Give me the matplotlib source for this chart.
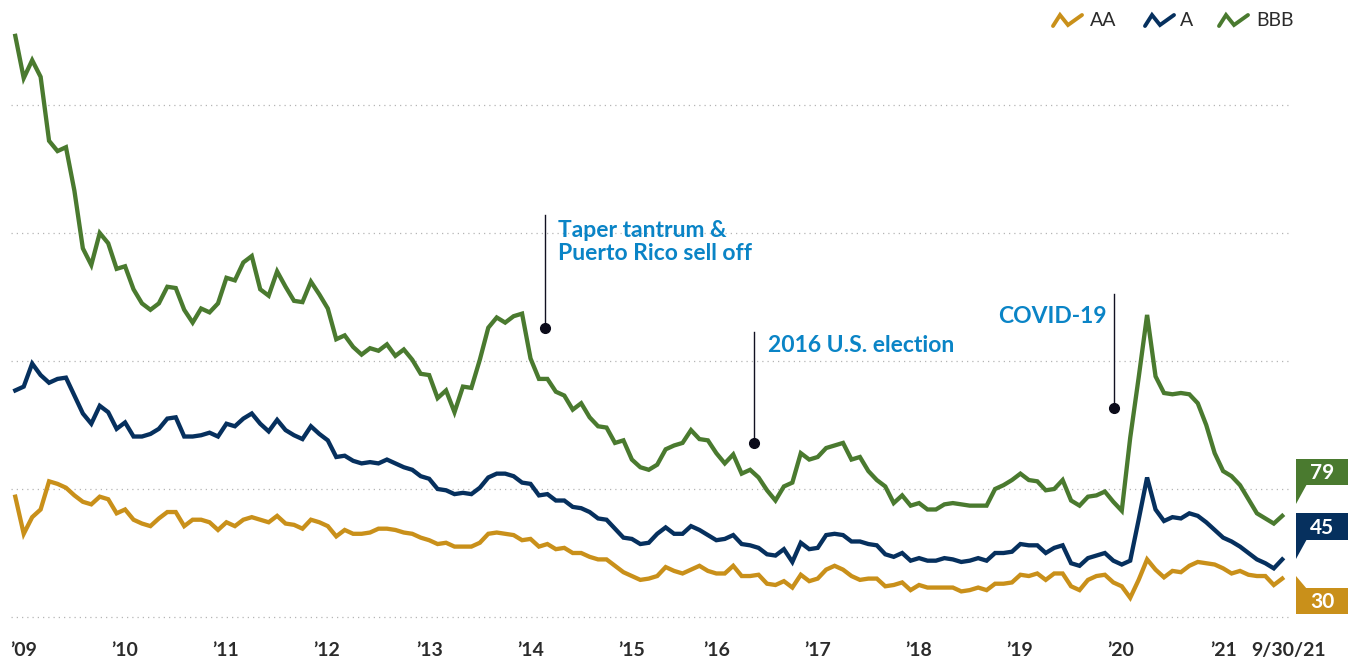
import numpy as np
import matplotlib
matplotlib.use("Agg")
import matplotlib.pyplot as plt
from matplotlib.patches import Polygon

# month-end spreads (bps), Jan 2009 .. Sep 2021
BBB = [454, 421, 435, 422, 372, 364, 367, 333, 288, 275, 300, 292, 272, 274, 256, 245,
       240, 245, 258, 257, 240, 230, 241, 238, 245, 265,
       263, 277, 282, 256, 251, 270, 258, 247, 246, 262, 252, 241, 217, 220, 211, 205,
       210, 208, 213, 204, 209, 201, 190, 189, 171,
       177, 160, 180, 179, 201, 226, 234, 230, 235, 237, 202, 186, 186, 176, 173, 162,
       167, 156, 149, 148, 136, 138, 123, 117, 115, 119,
       131, 134, 136, 146, 139, 138, 128, 120, 127, 112, 115, 109, 99, 91, 102, 105,
       128, 123, 125, 132, 134, 136, 123, 125, 114,
       107, 102, 89, 95, 87, 89, 84, 84, 88, 89, 88, 87, 87, 87, 100, 103, 107, 112,
       107, 106, 99, 100, 107, 91, 87,
       94, 95, 98, 90, 83, 140, 187, 236, 188, 175, 174, 175, 174, 167, 150, 128, 114,
       110, 103, 92, 81, 77, 73, 79]
A = [177, 180, 198, 189, 183, 186, 187, 173, 159, 151, 165, 160, 147, 152, 141, 141,
     143, 147, 155, 156, 141, 141, 142, 144, 141, 151,
     149, 155, 159, 151, 145, 154, 146, 142, 139, 149, 143, 138, 125, 126, 122, 120,
     121, 120, 123, 120, 117, 115, 110, 108, 100,
     99, 96, 97, 96, 101, 109, 112, 112, 110, 105, 104, 95, 96, 91, 91, 86, 85, 82,
     77, 76, 69, 62, 61, 57, 58, 65,
     70, 65, 65, 71, 68, 64, 60, 61, 64, 57, 56, 54, 49, 48, 53, 43, 58, 53, 54, 64,
     65, 64, 59, 59, 57,
     56, 49, 47, 50, 44, 46, 44, 44, 46, 45, 43, 44, 46, 44, 50, 50, 51, 57, 56, 56,
     50, 54, 56, 42, 40,
     46, 48, 50, 44, 41, 44, 76, 109, 84, 75, 78, 77, 81, 79, 74, 68, 62, 59, 55, 50,
     45, 42, 38, 45]
AA = [94, 65, 78, 84, 106, 104, 101, 95, 90, 88, 94, 92, 81, 84, 76, 73, 71, 77, 82,
      82, 71, 76, 76, 74, 68, 74,
      71, 76, 78, 76, 74, 79, 73, 72, 69, 76, 74, 71, 63, 68, 65, 65, 66, 69, 69, 68,
      66, 65, 62, 60, 57,
      58, 55, 55, 55, 58, 65, 66, 65, 64, 60, 61, 55, 57, 53, 54, 50, 50, 47, 45, 45,
      40, 35, 32, 29, 30, 32,
      39, 36, 34, 37, 40, 36, 34, 34, 40, 32, 32, 33, 26, 25, 28, 23, 33, 28, 30, 37,
      40, 37, 32, 29, 30,
      30, 24, 25, 27, 21, 25, 23, 23, 23, 23, 20, 21, 23, 21, 26, 26, 27, 33, 32, 34,
      29, 34, 34, 24, 21,
      29, 32, 33, 27, 24, 15, 29, 45, 37, 31, 36, 35, 40, 43, 42, 41, 38, 34, 36, 33,
      32, 32, 25, 30]

TICK_LABELS = ["\u201909", "\u201910", "\u201911", "\u201912", "\u201913", "\u201914",
               "\u201915", "\u201916", "\u201917", "\u201918", "\u201919", "\u201920",
               "\u201921", "9/30/21"]
TICK_POS = [0.95, 12.9, 24.9, 36.9, 49.0, 61.0, 73.0, 83.0, 95.0, 106.9, 118.9, 130.9,
            143.0, 150.8]

SERIES = ["AA", "A", "BBB"]
COLORS = {"AA": "#c9901a", "A": "#06305e", "BBB": "#4a7a2f"}
BLUE = "#0a84c6"
INK = "#2b2b2b"
FONT = ["Lato", "DejaVu Sans"]

W, H = 1351, 660
fig = plt.figure(figsize=(W / 100, H / 100), dpi=100)

# main axes mapped so x index 0 sits at px 15.3 and y=0 at px 617
n = len(BBB)
step = (1288 - 15.3) / (n - 1)
x0_px, x1_px = 11, 1289
xlim = ((x0_px - 15.3) / step, (x1_px - 15.3) / step)
ytop_px, ybot_px = 20, 624
ylim = ((617 - ybot_px) / 1.28, (617 - ytop_px) / 1.28)
ax = fig.add_axes([x0_px / W, 1 - ybot_px / H, (x1_px - x0_px) / W,
                   (ybot_px - ytop_px) / H])
ax.set_xlim(*xlim)
ax.set_ylim(*ylim)

for v in [0, 100, 200, 300, 400]:
    ax.axhline(v, color="#b5b5b5", lw=0.9, ls=(0, (1, 3.2)), zorder=1)

x = np.arange(n)
for name, vals in [("BBB", BBB), ("A", A), ("AA", AA)]:
    ax.plot(x, vals, color=COLORS[name], lw=3.1, solid_joinstyle="miter",
            zorder=3, clip_on=False)

for s in ax.spines.values():
    s.set_visible(False)
ax.set_yticks([])
ax.set_xticks(TICK_POS)
ax.set_xticklabels(TICK_LABELS, family=FONT, fontweight="bold", fontsize=14,
                   color=INK)
ax.tick_params(axis="x", length=0, pad=13)

# event call-outs
def callout(xp, y_top, y_dot):
    ax.plot([xp, xp], [y_top, y_dot], color="#111122", lw=1.0, zorder=4)
    ax.plot(xp, y_dot, "o", color="#0b0b1a", ms=7, zorder=5)

callout(62.7, 314, 226)
ax.text(64.3, 293, "Taper tantrum &\nPuerto Rico sell off", color=BLUE,
        family=FONT, fontweight="bold", fontsize=16.5, ha="left", va="center",
        linespacing=1.15)
callout(87.5, 223, 136)
ax.text(89.1, 212.5, "2016 U.S. election", color=BLUE, family=FONT,
        fontweight="bold", fontsize=16.5, ha="left", va="center")
callout(130.1, 252, 163)
ax.text(129.2, 235, "COVID-19", color=BLUE, family=FONT, fontweight="bold",
        fontsize=16.5, ha="right", va="center")

# overlay in pixel coords for legend and end labels
ov = fig.add_axes([0, 0, 1, 1], zorder=10)
ov.set_xlim(0, W)
ov.set_ylim(H, 0)
ov.axis("off")
ov.patch.set_alpha(0)

legend_x = {"AA": (1053, 1090), "A": (1145, 1180), "BBB": (1219, 1256)}
for name in SERIES:
    ix, tx = legend_x[name]
    ov.plot([ix, ix + 7, ix + 15, ix + 29], [26, 15, 25, 15], color=COLORS[name],
            lw=2.8, solid_capstyle="round", solid_joinstyle="miter")
    ov.text(tx, 20.5, name, family=FONT, fontsize=14, color=INK, ha="left",
            va="center")

end_vals = {"BBB": BBB[-1], "A": A[-1], "AA": AA[-1]}
# box top/bottom and tail direction per label
boxes = {"BBB": (459, 485, "down"), "A": (513, 540, "down"), "AA": (588, 614, "up")}
bx0, bx1 = 1296, 1348
for name, (top, bot, tail) in boxes.items():
    c = COLORS[name]
    ov.add_patch(Polygon([(bx0, top), (bx1, top), (bx1, bot), (bx0, bot)],
                         closed=True, color=c, lw=0))
    if tail == "down":
        tri = [(bx0, bot - 1), (bx0 + 11, bot - 1), (bx0, bot + 19)]
    else:
        tri = [(bx0, top + 1), (bx0 + 11, top + 1), (bx0, top - 12)]
    ov.add_patch(Polygon(tri, closed=True, color=c, lw=0))
    ov.text((bx0 + bx1) / 2, (top + bot) / 2 + 1, str(end_vals[name]), family=FONT,
            fontweight="bold", fontsize=15, color="white", ha="center", va="center")

fig.savefig("out.png", dpi=100)
